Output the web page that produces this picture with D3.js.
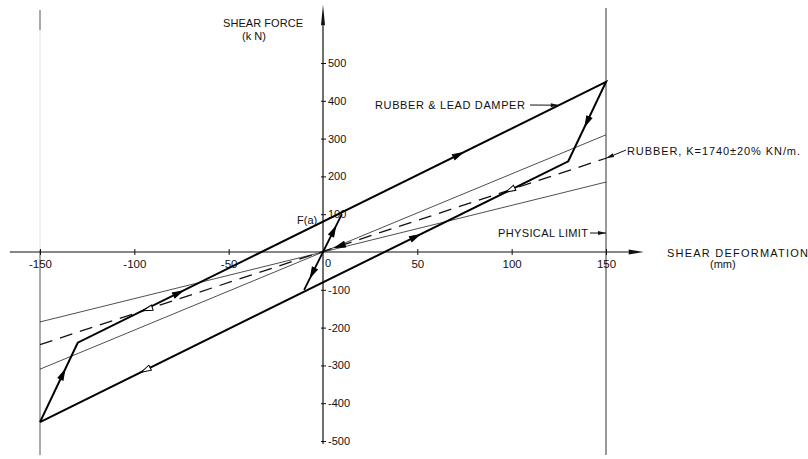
<!DOCTYPE html>
<html>
<head>
<meta charset="utf-8">
<script src="https://cdn.jsdelivr.net/npm/d3@7"></script>
<style>
  body { margin: 0; background: #fff; }
  svg { display: block; }
  text { font-family: "Liberation Sans", Arial, sans-serif; font-size: 11px; fill: #111; }
</style>
</head>
<body>
<div id="chart"></div>
<script>
const width = 808;
const height = 459;

// hysteresis loop of the rubber & lead damper (mm, kN)
const loopDisp = [-150, -130, 150, 130, -150];
const loopForce = [-450, -240, 450, 240, -450];
// first loading / unloading from the origin
const initDisp = [-10, 0, 10];
const initForce = [-100, 0, 100];
// rubber alone, K = 1740 kN/m and the +/-20% band
const rubberDisp = [-150, 150];
const rubberForce = [-245, 248];
const rubberHigh = [-310, 310];
const rubberLow = [-185, 185];

const xTicks = [-150, -100, -50, 50, 100, 150];
const yTicks = [-500, -400, -300, -200, -100, 100, 200, 300, 400, 500];

// arrows on the curves: [series, segment start index, fraction along, filled, reversed]
const arrows = [
  ["loop", 0, 0.6, true, false],
  ["loop", 1, 0.19, true, false],
  ["loop", 1, 0.72, true, false],
  ["loop", 2, 0.5, true, false],
  ["loop", 3, 0.11, false, false],
  ["loop", 3, 0.29, true, true],
  ["loop", 3, 0.8, false, false],
  ["init", 1, 0.55, true, false],
  ["init", 1, 0.55, true, true],
  ["rubber", 0, 0.19, false, true],
  ["rubber", 0, 0.53, true, true]
];

const x = d3.scaleLinear().domain([-150, 150]).range([40, 606]);
const y = d3.scaleLinear().domain([-500, 500]).range([441, 63]);

const svg = d3.select("#chart")
  .append("svg")
  .attr("width", width)
  .attr("height", height);

// physical limit lines
svg.append("line")
  .attr("x1", x(-150)).attr("x2", x(-150))
  .attr("y1", 10).attr("y2", 30)
  .attr("stroke", "#555").attr("stroke-width", 1);
svg.append("line")
  .attr("x1", x(-150)).attr("x2", x(-150))
  .attr("y1", 30).attr("y2", 250)
  .attr("stroke", "#ddd").attr("stroke-width", 0.8);
svg.append("line")
  .attr("x1", x(-150)).attr("x2", x(-150))
  .attr("y1", 250).attr("y2", 455)
  .attr("stroke", "#555").attr("stroke-width", 1);
svg.append("line")
  .attr("x1", x(150)).attr("x2", x(150))
  .attr("y1", 8).attr("y2", 455)
  .attr("stroke", "#333").attr("stroke-width", 1);

// x axis
const xAxis = svg.append("g")
  .attr("transform", `translate(0,${y(0)})`)
  .call(d3.axisBottom(x).tickValues(xTicks).tickFormat(d => String(d)).tickSize(3).tickPadding(5));
xAxis.select(".domain").remove();
xAxis.selectAll(".tick line").attr("y1", -3).attr("stroke", "#111");
xAxis.selectAll("text").style("font-size", "11.5px").attr("fill", "#111").attr("font-family", null);
svg.append("line")
  .attr("x1", x(-166)).attr("x2", x(162))
  .attr("y1", y(0)).attr("y2", y(0))
  .attr("stroke", "#111").attr("stroke-width", 1.2);
svg.append("path")
  .attr("d", `M${x(162)},${y(0) - 2.5}L${x(170)},${y(0)}L${x(162)},${y(0) + 2.5}Z`)
  .attr("fill", "#111");

// y axis
const yAxis = svg.append("g")
  .attr("transform", `translate(${x(0)},0)`)
  .call(d3.axisRight(y).tickValues(yTicks).tickFormat(d => String(d)).tickSize(3).tickPadding(2));
yAxis.select(".domain").remove();
yAxis.selectAll(".tick line").attr("x1", -2).attr("stroke", "#111");
yAxis.selectAll("text").style("font-size", "11px").attr("fill", "#111").attr("font-family", null);
svg.append("line")
  .attr("x1", x(0)).attr("x2", x(0))
  .attr("y1", y(-508)).attr("y2", y(600))
  .attr("stroke", "#111").attr("stroke-width", 1.2);
svg.append("path")
  .attr("d", `M${x(0) - 2},${y(600)}L${x(0)},${y(655)}L${x(0) + 2},${y(600)}Z`)
  .attr("fill", "#111");
svg.append("text").attr("x", x(0) + 2).attr("y", y(0) + 15).text("0");

const line = d3.line().x(d => x(d[0])).y(d => y(d[1]));

// rubber band lines
svg.append("path")
  .attr("d", line(d3.zip(rubberDisp, rubberHigh)))
  .attr("fill", "none").attr("stroke", "#222").attr("stroke-width", 0.8);
svg.append("path")
  .attr("d", line(d3.zip(rubberDisp, rubberLow)))
  .attr("fill", "none").attr("stroke", "#222").attr("stroke-width", 0.8);
svg.append("path")
  .attr("d", line(d3.zip(rubberDisp, rubberForce)))
  .attr("fill", "none").attr("stroke", "#111").attr("stroke-width", 1.3)
  .attr("stroke-dasharray", "13,8");

// damper loop
svg.append("path")
  .attr("d", line(d3.zip(loopDisp, loopForce)))
  .attr("fill", "none").attr("stroke", "#000").attr("stroke-width", 2)
  .attr("stroke-linejoin", "miter");
svg.append("path")
  .attr("d", line(d3.zip(initDisp, initForce)))
  .attr("fill", "none").attr("stroke", "#000").attr("stroke-width", 1.8);

const series = {
  loop: d3.zip(loopDisp, loopForce),
  init: d3.zip(initDisp, initForce),
  rubber: d3.zip(rubberDisp, rubberForce)
};

function arrowHead(px, py, angle, filled) {
  svg.append("path")
    .attr("d", "M5,0L-5,-2.8L-5,2.8Z")
    .attr("transform", `translate(${px},${py}) rotate(${angle})`)
    .attr("fill", filled ? "#000" : "#fff")
    .attr("stroke", "#000").attr("stroke-width", 1);
}

arrows.forEach(([name, i, t, filled, reversed]) => {
  let a = series[name][i], b = series[name][i + 1];
  if (name === "init" && reversed) { a = series[name][1]; b = series[name][0]; }
  const ax = x(a[0]), ay = y(a[1]), bx = x(b[0]), by = y(b[1]);
  const px = ax + (bx - ax) * t, py = ay + (by - ay) * t;
  let angle = Math.atan2(by - ay, bx - ax) * 180 / Math.PI;
  if (reversed && name !== "init") angle += 180;
  arrowHead(px, py, angle, filled);
});

// labels
svg.append("text").attr("x", 223).attr("y", 27).attr("textLength", 80).text("SHEAR FORCE");
svg.append("text").attr("x", 242).attr("y", 40).text("(k N)");
svg.append("text").attr("x", 667).attr("y", 257).attr("textLength", 141).text("SHEAR  DEFORMATION");
svg.append("text").attr("x", 710).attr("y", 268).text("(mm)");
svg.append("text").attr("x", 297).attr("y", 224).text("F(a)");
svg.append("text").attr("x", 375).attr("y", 109).attr("textLength", 150).text("RUBBER & LEAD DAMPER");
svg.append("text").attr("x", 627).attr("y", 155).attr("textLength", 173).text("RUBBER, K=1740±20%  KN/m.");
svg.append("text").attr("x", 498).attr("y", 237).attr("textLength", 90).text("PHYSICAL LIMIT");

// leaders
function leader(x1, y1, x2, y2) {
  svg.append("line")
    .attr("x1", x1).attr("y1", y1).attr("x2", x2).attr("y2", y2)
    .attr("stroke", "#111").attr("stroke-width", 1);
  const angle = Math.atan2(y2 - y1, x2 - x1) * 180 / Math.PI;
  svg.append("path")
    .attr("d", "M0,0L-8,-2L-8,2Z")
    .attr("transform", `translate(${x2},${y2}) rotate(${angle})`)
    .attr("fill", "#111");
}
// point on the upper branch of the loop at 125 mm
const up = series.loop[1], upEnd = series.loop[2];
const tUp = (125 - up[0]) / (upEnd[0] - up[0]);
leader(530, 105, x(125), y(up[1] + (upEnd[1] - up[1]) * tUp));
leader(626, 150, x(rubberDisp[1]), y(rubberForce[1]));
leader(590, 233, x(150), 233);
</script>
</body>
</html>
